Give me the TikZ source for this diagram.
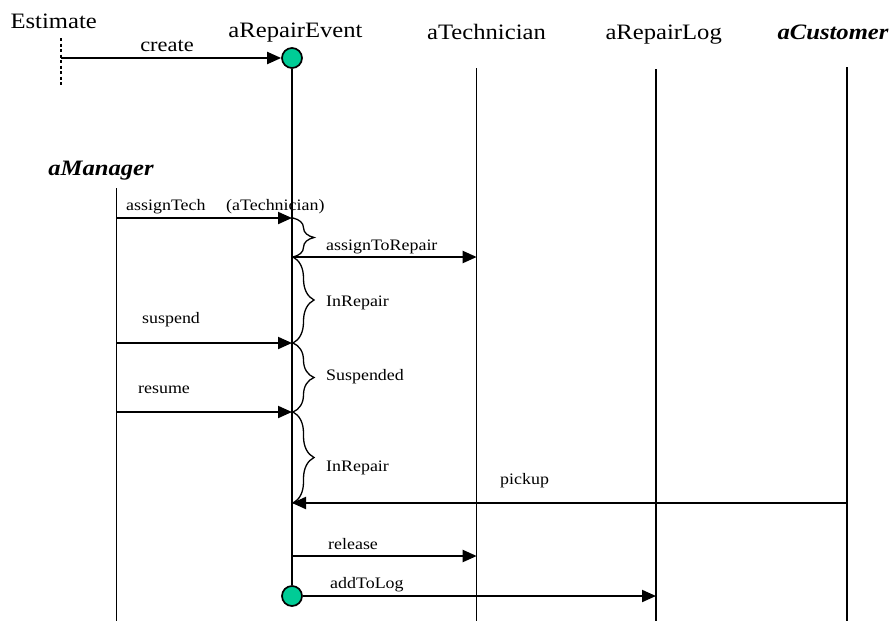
\documentclass[tikz,border=0pt]{standalone}
\usepackage{fontspec}
\setmainfont{Liberation Serif}[FakeStretch=1.12]
\usetikzlibrary{arrows.meta,decorations.pathreplacing}
\definecolor{circfill}{RGB}{0,204,150}
\tikzset{
  objname/.style={inner sep=0pt, anchor=base, font=\fontsize{22}{26}\selectfont},
  actorname/.style={inner sep=0pt, anchor=base, font=\fontsize{22}{26}\selectfont\bfseries\itshape},
  msglabel/.style={inner sep=0pt, anchor=base west, font=\fontsize{16}{19}\selectfont},
  msg/.style={line width=2pt, -{Triangle[length=14pt,width=12pt]}},
  thickline/.style={line width=2pt},
  thinline/.style={line width=1pt},
  lifecirc/.style={circle, draw, line width=1.7pt, fill=circfill, minimum size=20pt, inner sep=0pt},
  statebrace/.style={line width=1.3pt, decorate, decoration={brace, amplitude=21pt}},
}
\begin{document}
\begin{tikzpicture}[x=1pt,y=-1pt]
\useasboundingbox (0,0) rectangle (896,622);
% names
\node[objname] (est) at (53.7,28) {Estimate};
\node[objname] (rep) at (295.5,37) {aRepairEvent};
\node[objname] (tech) at (486.5,39) {aTechnician};
\node[objname] (log) at (663.7,39) {aRepairLog};
\node[actorname] (cust) at (833,39) {aCustomer};
\node[actorname] (mgr) at (101,175) {aManager};
% circles
\node[lifecirc] (c1) at (292,58) {};
\node[lifecirc] (c2) at (292,596) {};
% lifeline ends
\coordinate (estT) at (61,38); \coordinate (estB) at (61,87);
\coordinate (techT) at (476.7,68); \coordinate (techB) at (476.7,621);
\coordinate (logT) at (656,69); \coordinate (logB) at (656,621);
\coordinate (custT) at (846.7,67); \coordinate (custB) at (846.7,621);
\coordinate (mgrT) at (116.5,188); \coordinate (mgrB) at (116.5,621);
% lifelines
\draw[line width=1.6pt, dash pattern=on 3pt off 2.5pt] (estT) -- (estB);
\draw[thickline] (c1.south) -- (c2.north);
\draw[thinline] (techT) -- (techB);
\draw[thickline] (logT) -- (logB);
\draw[thickline] (custT) -- (custB);
\draw[thinline] (mgrT) -- (mgrB);
% message points
\coordinate (crS) at (61,58);
\coordinate (m1S) at (116.5,218); \coordinate (m1E) at (292,218);
\coordinate (m2S) at (292,257); \coordinate (m2E) at (476.7,257);
\coordinate (m3S) at (116.5,343); \coordinate (m3E) at (292,343);
\coordinate (m4S) at (116.5,412); \coordinate (m4E) at (292,412);
\coordinate (m5S) at (846.7,503); \coordinate (m5E) at (292,503);
\coordinate (m6S) at (292,556); \coordinate (m6E) at (476.7,556);
\coordinate (m7E) at (656,596);
% messages
\draw[msg] (crS) -- (c1.west);
\draw[msg] (m1S) -- (m1E);
\draw[msg] (m2S) -- (m2E);
\draw[msg] (m3S) -- (m3E);
\draw[msg] (m4S) -- (m4E);
\draw[msg] (m5S) -- (m5E);
\draw[msg] (m6S) -- (m6E);
\draw[msg] (c2.east) -- (m7E);
% labels
\node[inner sep=0pt, anchor=base, font=\fontsize{20}{24}\selectfont] (lcr) at (167,51.7) {create};
\node[msglabel] (l1) at (126,210) {assignTech};
\node[msglabel] (l1b) at (226,210) {(aTechnician)};
\node[msglabel] (l2) at (326,250) {assignToRepair};
\node[msglabel] (l3) at (142,323) {suspend};
\node[msglabel] (l4) at (138,393) {resume};
\node[msglabel] (l5) at (500,484) {pickup};
\node[msglabel] (l6) at (328,549) {release};
\node[msglabel] (l7) at (330,588) {addToLog};
% state braces
\coordinate (b0) at (293,218);
\coordinate (b1) at (293,257);
\coordinate (b2) at (293,343);
\coordinate (b3) at (293,412);
\coordinate (b4) at (293,503);
\draw[statebrace] (b0) -- (b1);
\draw[statebrace] (b1) -- (b2);
\draw[statebrace] (b2) -- (b3);
\draw[statebrace] (b3) -- (b4);
\node[msglabel] (s1) at (326,306) {InRepair};
\node[msglabel] (s2) at (326,380) {Suspended};
\node[msglabel] (s3) at (326,471.7) {InRepair};
\end{tikzpicture}
\end{document}
